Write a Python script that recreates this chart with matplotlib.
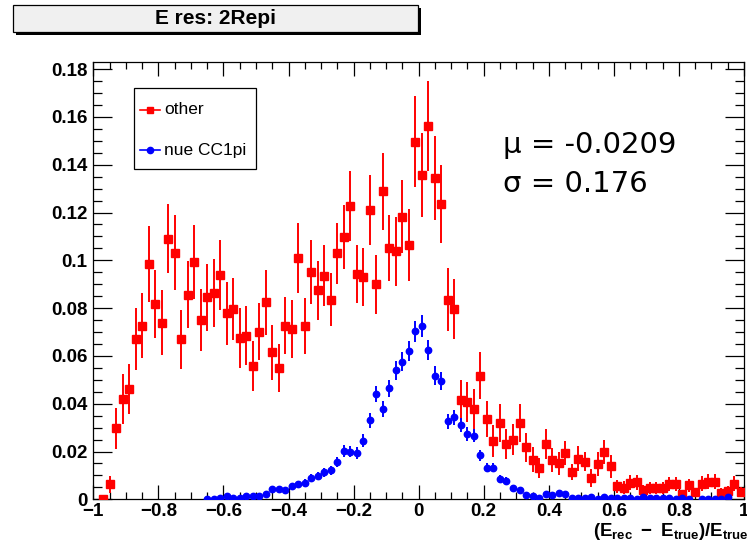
import numpy as np
import matplotlib
matplotlib.use("Agg")
import matplotlib.pyplot as plt
from matplotlib.patches import Rectangle
from matplotlib.lines import Line2D
from matplotlib.ticker import MultipleLocator, FuncFormatter

plt.rcParams['font.family'] = ['Liberation Sans', 'DejaVu Sans']
plt.rcParams['mathtext.fontset'] = 'custom'
plt.rcParams['mathtext.rm'] = 'Liberation Sans:bold'
plt.rcParams['mathtext.it'] = 'Liberation Sans:bold'
plt.rcParams['mathtext.bf'] = 'Liberation Sans:bold'

# 100 bins of width 0.02 over [-1, 1]
bin_edges = np.linspace(-1.0, 1.0, 101)
bin_centers = 0.5 * (bin_edges[:-1] + bin_edges[1:])

nan = np.nan
other_vals = [
    nan, 0.0002, 0.0063, 0.0297, 0.0420, 0.0460, 0.0670, 0.0727, 0.0985, 0.0817,
    0.0738, 0.1090, 0.1032, 0.0670, 0.0855, 0.0992, 0.0751, 0.0845, 0.0863, 0.0940,
    0.0778, 0.0796, 0.0676, 0.0685, 0.0557, 0.0702, 0.0825, 0.0615, 0.0550, 0.0727,
    0.0713, 0.1010, 0.0726, 0.0952, 0.0874, 0.0936, 0.0836, 0.1030, 0.1098, 0.1228,
    0.0943, 0.0931, 0.1211, 0.0899, 0.1288, 0.1052, 0.1038, 0.1183, 0.1063, 0.1497,
    0.1357, 0.1562, 0.1343, 0.1234, 0.0836, 0.0796, 0.0415, 0.0406, 0.0378, 0.0517,
    0.0336, 0.0245, 0.0319, 0.0231, 0.0250, 0.0319, 0.0217, 0.0165, 0.0130, 0.0231,
    0.0165, 0.0151, 0.0193, 0.0115, 0.0170, 0.0158, 0.0088, 0.0147, 0.0198, 0.0138,
    0.0054, 0.0049, 0.0070, 0.0071, 0.0040, 0.0049, 0.0049, 0.0049, 0.0063, 0.0064,
    0.0024, 0.0059, 0.0031, 0.0066, 0.0074, 0.0074, 0.0028, 0.0035, 0.0066, 0.0031,
]
other_errs = [
    nan, 0.0005, 0.0035, 0.0087, 0.0105, 0.0105, 0.0130, 0.0135, 0.0159, 0.0143,
    0.0136, 0.0145, 0.0157, 0.0124, 0.0140, 0.0154, 0.0129, 0.0139, 0.0143, 0.0147,
    0.0133, 0.0129, 0.0126, 0.0124, 0.0104, 0.0120, 0.0136, 0.0115, 0.0100, 0.0119,
    0.0122, 0.0145, 0.0117, 0.0134, 0.0122, 0.0127, 0.0112, 0.0128, 0.0134, 0.0147,
    0.0122, 0.0122, 0.0147, 0.0124, 0.0161, 0.0138, 0.0145, 0.0151, 0.0150, 0.0189,
    0.0176, 0.0189, 0.0176, 0.0163, 0.0130, 0.0124, 0.0085, 0.0084, 0.0084, 0.0098,
    0.0077, 0.0066, 0.0078, 0.0063, 0.0064, 0.0078, 0.0062, 0.0052, 0.0042, 0.0063,
    0.0050, 0.0049, 0.0051, 0.0034, 0.0052, 0.0038, 0.0038, 0.0049, 0.0052, 0.0049,
    0.0027, 0.0028, 0.0030, 0.0030, 0.0020, 0.0025, 0.0025, 0.0025, 0.0030, 0.0030,
    0.0015, 0.0028, 0.0018, 0.0030, 0.0032, 0.0032, 0.0018, 0.0020, 0.0030, 0.0020,
]
nue_vals = [
    nan, nan, nan, nan, nan, nan, nan, nan, nan, nan,
    nan, nan, nan, nan, nan, nan, nan, 0.0003, 0.0003, 0.0007,
    0.0013, 0.0007, 0.0007, 0.0014, 0.0012, 0.0015, 0.0021, 0.0043, 0.0043, 0.0039,
    0.0057, 0.0064, 0.0070, 0.0091, 0.0097, 0.0113, 0.0122, 0.0155, 0.0203, 0.0200,
    0.0193, 0.0245, 0.0331, 0.0441, 0.0378, 0.0464, 0.0540, 0.0576, 0.0622, 0.0703,
    0.0727, 0.0625, 0.0517, 0.0494, 0.0326, 0.0343, 0.0310, 0.0273, 0.0266, 0.0185,
    0.0133, 0.0133, 0.0084, 0.0077, 0.0049, 0.0039, 0.0018, 0.0013, 0.0007, 0.0021,
    0.0017, 0.0027, 0.0021, 0.0007, 0.0004, 0.0004, 0.0010, 0.0001, 0.0010, 0.0004,
    0.0005, 0.0004, 0.0004, 0.0003, 0.0010, 0.0007, 0.0004, 0.0004, 0.0004, 0.0001,
    0.0005, 0.0001, nan, 0.0003, 0.0001, 0.0001, 0.0003, 0.0008, nan, nan,
]
nue_errs = [
    nan, nan, nan, nan, nan, nan, nan, nan, nan, nan,
    nan, nan, nan, nan, nan, nan, nan, 0.0003, 0.0003, 0.0004,
    0.0006, 0.0004, 0.0004, 0.0006, 0.0006, 0.0007, 0.0008, 0.0011, 0.0011, 0.0011,
    0.0013, 0.0013, 0.0014, 0.0016, 0.0017, 0.0018, 0.0019, 0.0021, 0.0024, 0.0024,
    0.0024, 0.0027, 0.0031, 0.0035, 0.0033, 0.0036, 0.0040, 0.0041, 0.0042, 0.0045,
    0.0046, 0.0043, 0.0039, 0.0038, 0.0031, 0.0031, 0.0030, 0.0028, 0.0028, 0.0023,
    0.0020, 0.0020, 0.0016, 0.0015, 0.0012, 0.0011, 0.0007, 0.0006, 0.0004, 0.0008,
    0.0007, 0.0009, 0.0008, 0.0004, 0.0003, 0.0003, 0.0005, 0.0002, 0.0005, 0.0003,
    0.0003, 0.0003, 0.0003, 0.0003, 0.0005, 0.0004, 0.0003, 0.0003, 0.0003, 0.0002,
    0.0003, 0.0002, nan, 0.0003, 0.0002, 0.0002, 0.0003, 0.0005, nan, nan,
]

title_text = "E res: 2Repi"
series_labels = ["other", "nue CC1pi"]
series_colors = ["red", "blue"]
series_markers = ["s", "o"]
mu_text = "\u03bc = -0.0209"
sigma_text = "\u03c3 = 0.176"

W, H = 747, 550
fig = plt.figure(figsize=(W / 100, H / 100), dpi=100)
fig.patch.set_facecolor("white")


def fx(px):
    return px / W


def fy(py):
    return 1 - py / H


ax = fig.add_axes([fx(93.3), fy(499.3), fx(744) - fx(93.3), fy(61.7) - fy(499.3)])

x = bin_centers
ax.errorbar(x, np.array(other_vals), yerr=np.array(other_errs), fmt='s',
            color='red', ecolor='red', elinewidth=1.4, markersize=5.2,
            capsize=0, zorder=3)
ax.errorbar(x, np.array(nue_vals), yerr=np.array(nue_errs), fmt='o',
            color='blue', ecolor='blue', elinewidth=1.4, markersize=4.6,
            capsize=0, zorder=4)

ax.set_xlim(-1, 1)
ax.set_ylim(0, 0.1831)

ax.xaxis.set_major_locator(MultipleLocator(0.2))
ax.xaxis.set_minor_locator(MultipleLocator(0.05))
ax.yaxis.set_major_locator(MultipleLocator(0.02))
ax.yaxis.set_minor_locator(MultipleLocator(0.005))
fmt = FuncFormatter(lambda v, p: ("%g" % round(v, 4)).replace("-", "\u2212"))
ax.xaxis.set_major_formatter(fmt)
ax.yaxis.set_major_formatter(fmt)

ax.tick_params(axis='both', which='both', direction='in', top=True, right=True,
               width=0.9, color='black')
ax.tick_params(axis='x', which='major', length=10, pad=3)
ax.tick_params(axis='x', which='minor', length=5)
ax.tick_params(axis='y', which='major', length=13.5, pad=4)
ax.tick_params(axis='y', which='minor', length=6.5)
for lab in ax.get_xticklabels() + ax.get_yticklabels():
    lab.set_fontweight('bold')
    lab.set_fontsize(13.5)
for sp in ax.spines.values():
    sp.set_linewidth(0.9)

# axis title under the right end of the x axis
fig.text(fx(749), fy(536), r'$(E_{rec}\ -\ E_{true})/E_{true}$',
         ha='right', va='baseline', fontsize=13.5)

# legend pave drawn by hand
fig.add_artist(Rectangle((fx(134.3), fy(169.3)), fx(256) - fx(134.3),
                         fy(88.3) - fy(169.3), transform=fig.transFigure,
                         facecolor='white', edgecolor='black', lw=0.9, zorder=5))
for row_y, label, col, mk in zip([110, 150], series_labels, series_colors,
                                 series_markers):
    fig.add_artist(Line2D([fx(140), fx(160)], [fy(row_y), fy(row_y)],
                          transform=fig.transFigure, color=col, lw=1.2, zorder=6))
    fig.add_artist(Line2D([fx(150)], [fy(row_y)], transform=fig.transFigure,
                          color=col, marker=mk,
                          markersize=5 if mk == 's' else 4.5, zorder=7))
    fig.text(fx(164), fy(row_y), label, ha='left', va='center',
             fontsize=12.5, zorder=7)

# fit summary
fig.text(fx(503), fy(153), mu_text, fontsize=21, family='DejaVu Sans',
         ha='left', va='baseline')
fig.text(fx(503), fy(192), sigma_text, fontsize=21, family='DejaVu Sans',
         ha='left', va='baseline')

# title pave with drop shadow
fig.add_artist(Rectangle((fx(15.5), fy(35)), fx(418) - fx(12.7), fy(5) - fy(32.3),
                         transform=fig.transFigure, facecolor='black',
                         edgecolor='black', lw=0))
fig.add_artist(Rectangle((fx(12.7), fy(32.3)), fx(418) - fx(12.7), fy(5) - fy(32.3),
                         transform=fig.transFigure, facecolor='#f0f0f0',
                         edgecolor='black', lw=0.9))
fig.text(fx(215), fy(19), title_text, ha='center', va='center',
         fontsize=15, fontweight='bold')

fig.savefig("out.png", dpi=100)
